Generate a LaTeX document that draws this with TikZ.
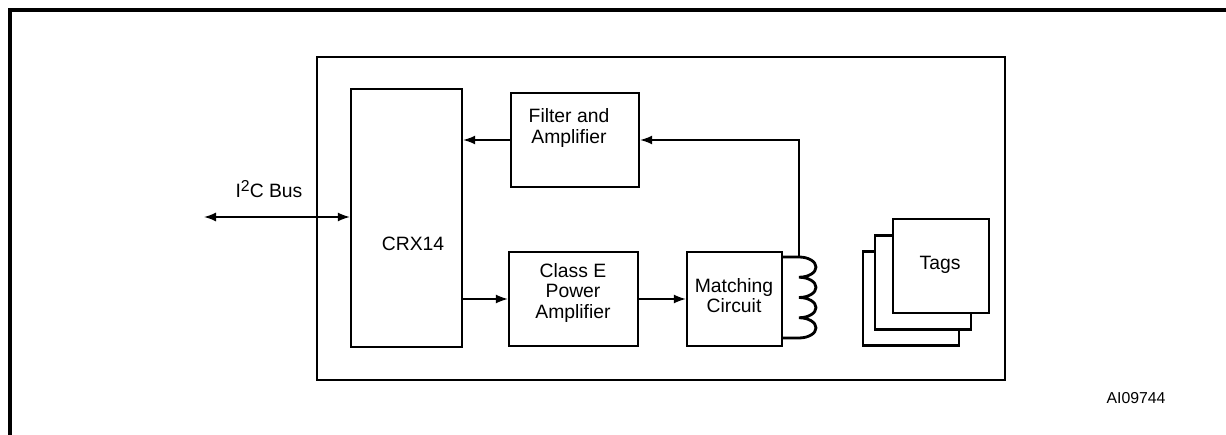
\documentclass[tikz,border=0pt]{standalone}
\usepackage{fontspec}
\setmainfont{Liberation Sans}
\usetikzlibrary{arrows.meta,positioning,calc}

\begin{document}
\begin{tikzpicture}[
  x=0.02cm, y=-0.02cm,
  every node/.style={font=\fontsize{11}{11.4}\selectfont},
  block/.style={draw,line width=1.3pt,inner sep=0pt},
  txt/.style={align=center,inner sep=0pt},
  tip/.style={-{Latex[length=2.4mm,width=1.8mm]}},
  link/.style={line width=0.9pt,tip},
  coil/.style={line width=1.6pt},
  frame/.style={line width=2pt},
  board/.style={line width=1.3pt},
]
  \useasboundingbox (0,0) rectangle (1226,435);

  % Outer frame (cut by the page) and the reader board
  \draw[frame] (10,435) -- (10,10) -- (1226,10);
  \draw[board] (317,57) rectangle (1005,380);

  % Blocks
  \node[block,minimum width=2.22cm,minimum height=5.16cm] (crx)   at (406.5,218) {};
  \node[block,minimum width=2.56cm,minimum height=1.88cm] (filt)  at (575,140)   {};
  \node[block,minimum width=2.58cm,minimum height=1.88cm] (amp)   at (573.5,299) {};
  \node[block,minimum width=1.90cm,minimum height=1.88cm] (match) at (734.5,299) {};

  % Tags (stacked)
  \node[block,fill=white,minimum width=1.92cm,minimum height=1.88cm] (tagc) at (911,298.5) {};
  \node[block,fill=white,minimum width=1.92cm,minimum height=1.88cm] (tagb) at (923,282.5) {};
  \node[block,fill=white,minimum width=1.92cm,minimum height=1.88cm] (taga) at (941,266)   {};

  % Block texts
  \node[txt] (crxtxt)   at (413,244)   {CRX14};
  \node[txt] (filttxt)  at (569,128)   {Filter and\\Amplifier};
  \node[txt] (amptxt)   at (573,293)   {Class E\\Power\\Amplifier};
  \node[txt] (matchtxt) at (734,296)   {Matching\\Circuit};
  \node[txt] (tagtxt)   at (940,265)   {Tags};

  % I2C bus
  \coordinate (bus) at (204,217);
  \node[txt] (bustxt) at (269,189) {I\raisebox{0.55ex}{\fontsize{9}{9}\selectfont 2}C Bus};
  \draw[link,{Latex[length=2.4mm,width=1.8mm]}-{Latex[length=2.4mm,width=1.8mm]}] (bus) -- (bus -| crx.west);

  % Signal path
  \draw[link] (filt.west) -- (filt.west -| crx.east);
  \draw[link] (amp.west -| crx.east) -- (amp.west);
  \draw[link] (amp.east) -- (match.west);

  % Antenna coil
  \coordinate (ctop) at (799,257);
  \coordinate (cbot) at (799,338);
  \draw[coil] (ctop -| match.east) -- (ctop)
    \foreach \k in {1,...,4}{ arc[start angle=90,end angle=-90,x radius=0.34cm,y radius=0.2025cm] }
    -- (cbot -| match.east);

  % Feedback to filter
  \draw[link] (ctop) |- (filt.east);

  % Figure reference
  \node[txt,font=\fontsize{9}{10}\selectfont] (ref) at (1136,398) {AI09744};
\end{tikzpicture}
\end{document}
